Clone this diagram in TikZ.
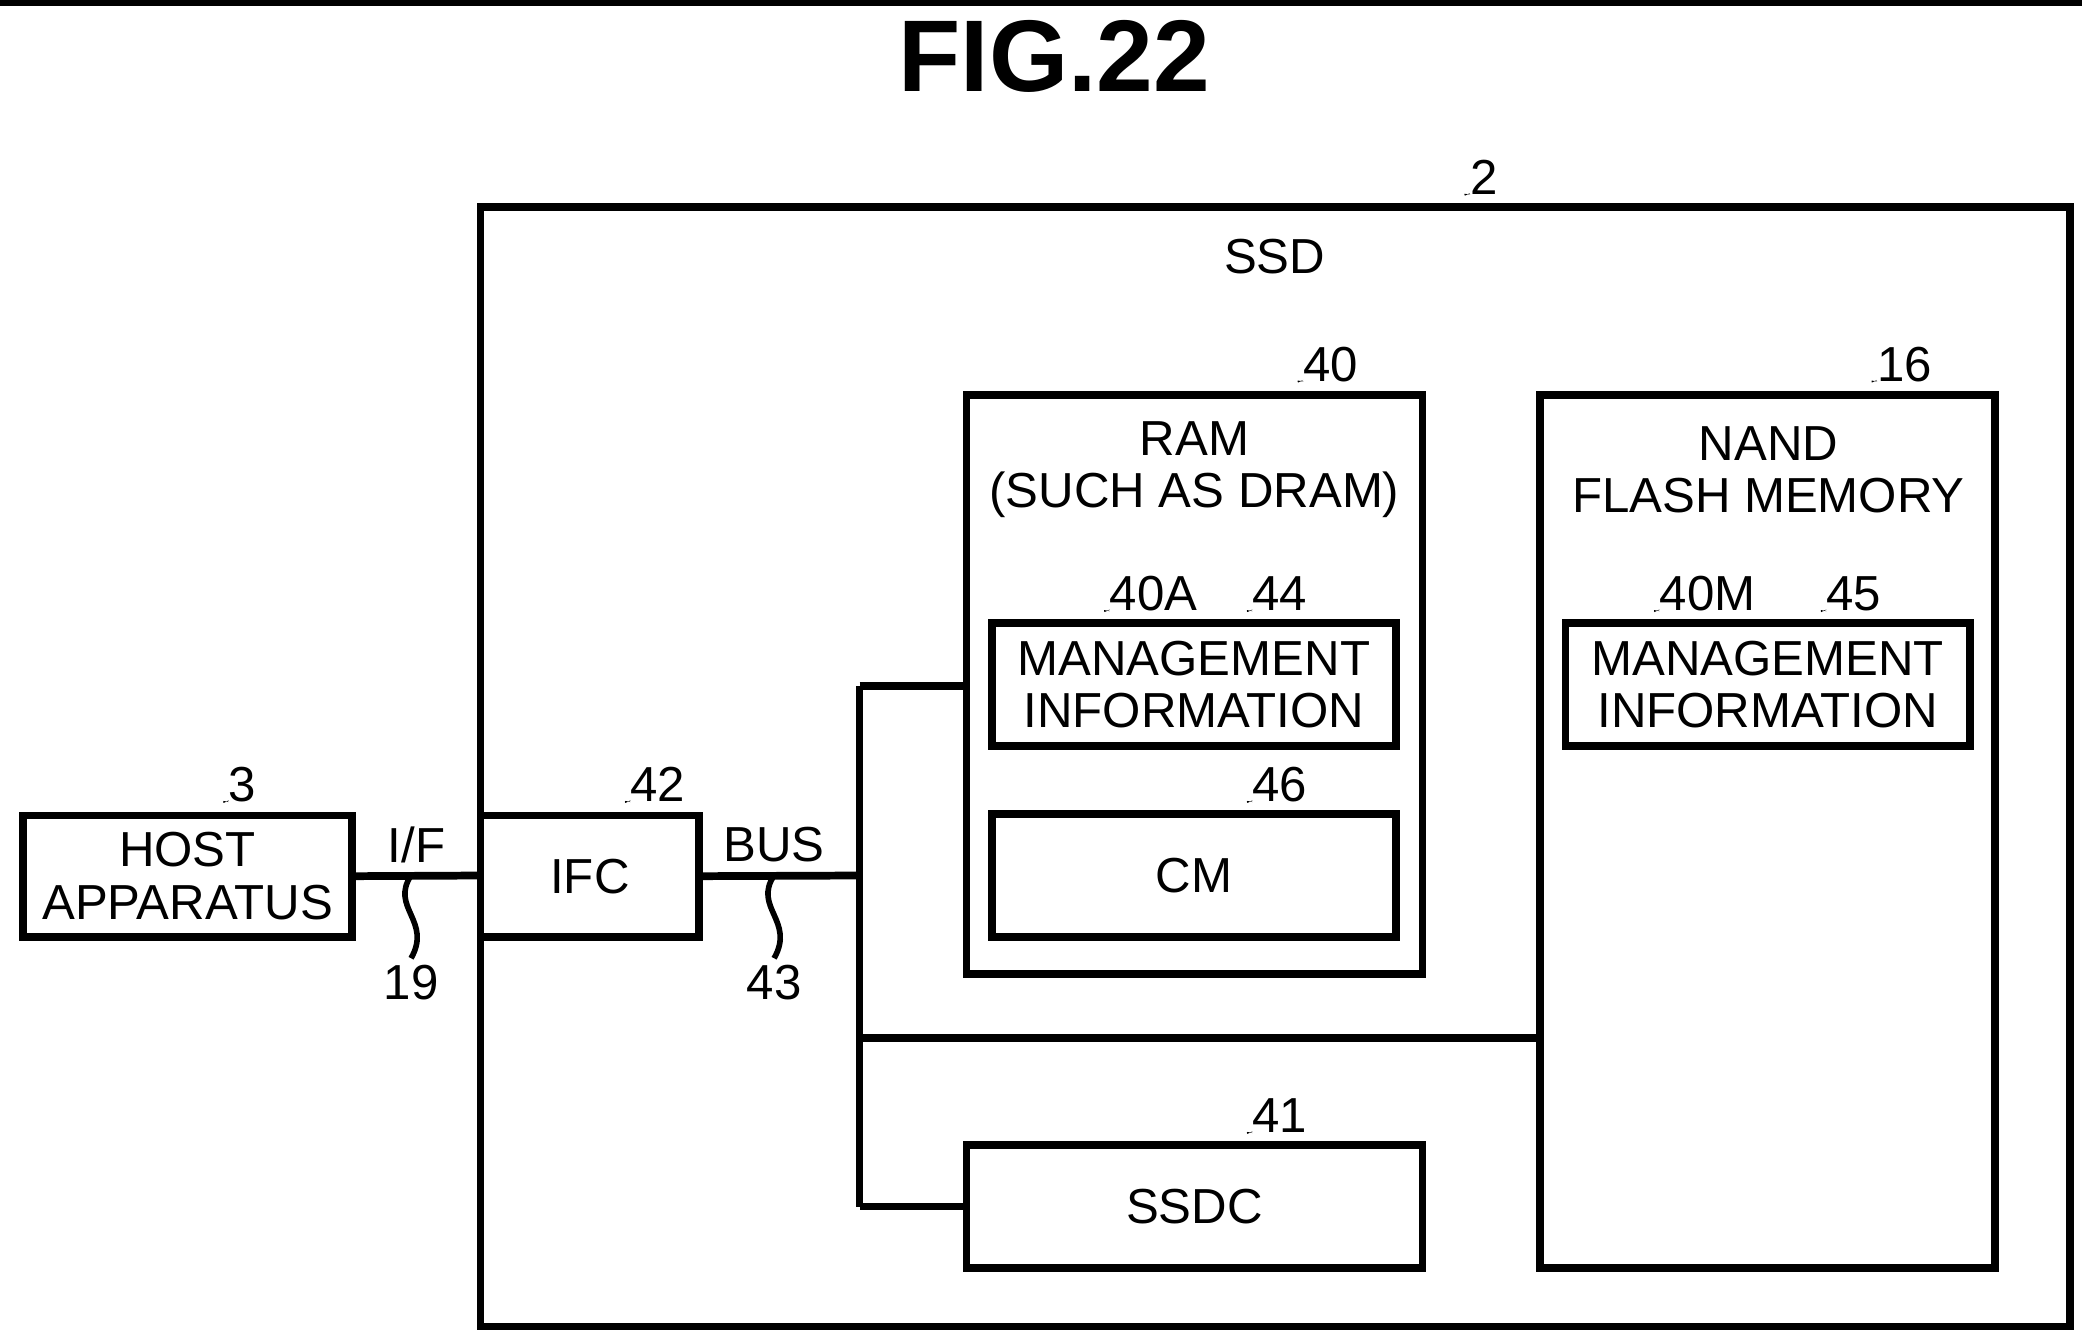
\documentclass[tikz,border=0pt]{standalone}
\usepackage{fontspec}
\setmainfont{Liberation Sans}
\begin{document}
\begin{tikzpicture}[x=0.013346cm,y=-0.013346cm,
  box/.style={draw,line width=2.2pt,inner sep=0pt},
  txt/.style={font=\fontsize{14}{15}\selectfont,align=center,inner sep=0pt},
  ln/.style={line width=2.2pt},
  sq/.style={line width=1.6pt}]
\useasboundingbox (0,0) rectangle (1560,1006);
\newcommand{\lbl}[4]{\node[txt,anchor=west] (#1) at (#2,#3) {#4};
 \draw[sq] ([xshift=-0.02cm,yshift=-0.17cm]#1.west) .. controls +(-0.12,0.06) and +(0.08,0.1) .. ++(-0.06,-0.13) .. controls +(-0.08,-0.1) and +(-0.08,0.06) .. ++(0.02,-0.12);}
\node[font=\fontsize{29}{30}\selectfont\bfseries] (title) at (790,42) {FIG.22};
\node[box,minimum width=1191\pgflinewidth] (ssd) at (0,0) {};
\draw[box] (360,155) rectangle (1551,994);
\node[txt] (ssdt) at (955,192) {SSD};
\node[box,minimum width=4.564cm,minimum height=5.792cm] (ram) at (895,513) {};
\node[txt] (ramt) at (895,352) {RAM\\(SUCH AS DRAM)};
\node[box,minimum width=4.044cm,minimum height=1.228cm,txt] (mg1) at (894.5,513) {MANAGEMENT\\INFORMATION};
\node[box,minimum width=4.044cm,minimum height=1.228cm,txt] (cm) at (894.5,656) {CM};
\node[box,minimum width=4.551cm,minimum height=8.728cm] (nand) at (1324.5,623) {};
\node[txt] (nandt) at (1325,352) {NAND\\FLASH MEMORY};
\node[box,minimum width=4.044cm,minimum height=1.228cm,txt] (mg2) at (1324.5,513) {MANAGEMENT\\INFORMATION};
\node[box,minimum width=4.564cm,minimum height=1.228cm,txt] (ssdc) at (895,904) {SSDC};
\node[box,minimum width=3.296cm,minimum height=1.214cm,txt] (host) at (140.5,656.5) {HOST\\APPARATUS};
\node[box,minimum width=2.189cm,minimum height=1.214cm,txt] (ifc) at (442,656.5) {IFC};
\lbl{l2}{1101}{133}{2}
\lbl{l40}{976}{273}{40}
\lbl{l40A}{831}{445}{40A}
\lbl{l44}{938}{445}{44}
\lbl{l16}{1406}{273}{16}
\lbl{l40M}{1243}{445}{40M}
\lbl{l45}{1368}{445}{45}
\lbl{l46}{938}{588}{46}
\lbl{l41}{938}{836}{41}
\lbl{l3}{171}{588}{3}
\lbl{l42}{472}{588}{42}
\coordinate (ssdl) at (360,656);
\draw[ln] (host.east) -- (ssdl);
\node[txt] (if) at (312,633) {I/F};
\coordinate (b1) at (644,656);
\coordinate (b0) at (644,514);
\coordinate (b2) at (644,778);
\coordinate (b3) at (644,904);
\draw[ln] (ifc.east) -- (b1);
\node[txt] (bus) at (580,633) {BUS};
\draw[ln] (b0) -- (b3);
\draw[ln] (b0) -- (b0 -| ram.west);
\draw[ln] (b2) -- (b2 -| nand.west);
\draw[ln] (b3) -- (ssdc.west);
\node[txt] (n19) at (308,736) {19};
\node[txt] (n43) at (580,736) {43};
\coordinate (w1) at (308,656); \coordinate (w2) at (580,656);
\draw[sq] (w1) .. controls (292,680) and (324,690) .. (308,718);
\draw[sq] (w2) .. controls (564,680) and (596,690) .. (580,718);
\end{tikzpicture}
\end{document}
